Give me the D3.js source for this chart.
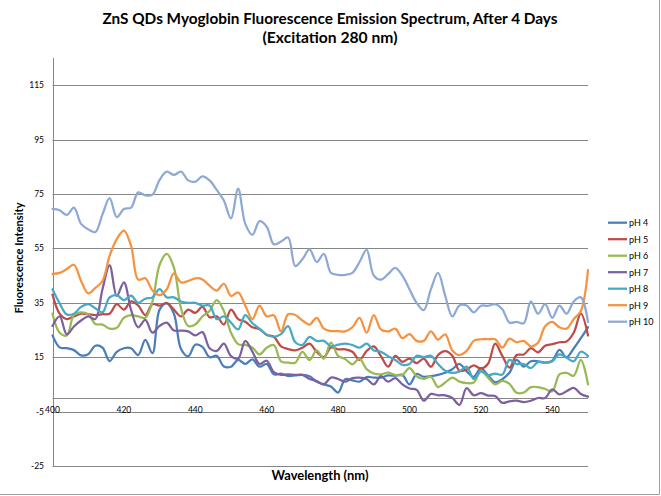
<!DOCTYPE html>
<html>
<head>
<meta charset="utf-8">
<script src="https://cdn.jsdelivr.net/npm/d3@7"></script>
<style>
  html, body { margin: 0; padding: 0; background: #fff; }
  svg { display: block; font-family: Lato, "Open Sans", sans-serif; }
</style>
</head>
<body>
<svg id="chart" width="661" height="496"></svg>
<script>
// ---------- data ----------
const titleLines = ["ZnS QDs Myoglobin Fluorescence Emission Spectrum, After 4 Days", "(Excitation 280 nm)"];
const xTitle = "Wavelength (nm)";
const yTitle = "Fluorescence Intensity";
const wavelengths = d3.range(400, 551, 2);
const yTicks = [-25, -5, 15, 35, 55, 75, 95, 115];
const xTicks = [400, 420, 440, 460, 480, 500, 520, 540];
const seriesNames = ["pH 4", "pH 5", "pH 6", "pH 7", "pH 8", "pH 9", "pH 10"];
const seriesColors = ["#4A7EBB", "#BE4B48", "#98B954", "#7D60A0", "#46AAC5", "#F69240", "#8EA9D5"];

const pH4 = [23, 18.6, 18.3, 17.6, 15.7, 16.1, 19.2, 18.5, 13.6, 17, 18.3, 18.3, 15.8, 21.4, 16.5, 32.5, 34.8, 31, 18, 15.3, 19.6, 18.8, 15, 15.5, 11.6, 11.5,
  14, 12.5, 14.2, 11.5, 12.5, 8.7, 9, 8.1, 8.3, 8.5, 8, 6, 5, 4.2, 2, 6.9, 6.5, 6, 7.7, 7.5, 7.5, 8.3, 8.2, 8.5, 5,
  8.8, 7.8, 8, 8.5, 9.3, 10.6, 12.5, 9.8, 7.8, 11, 8.3, 5.8, 6.9, 9.3, 14, 11.5, 13.5, 13.5, 13, 13.7, 17.7, 15, 18.2, 22, 26];
const pH5 = [38, 31, 29, 30, 31, 30.8, 30.5, 30.8, 31, 34.5, 32.5, 35.5, 34, 30.5, 34.5, 34, 35, 32.5, 30, 32.5, 31.3, 33.5, 29.7, 30, 27, 32.5,
  29, 28, 26, 25.3, 23.2, 22.5, 19, 18, 17.5, 18.5, 20, 17, 15, 18.6, 17.9, 17.9, 17, 14, 17.3, 19, 15.4, 11.5, 15.5, 13.3, 14.5,
  12.8, 14.5, 11.5, 15.8, 17.2, 15.5, 10, 10.5, 12, 10.8, 12.6, 20, 15.5, 11.2, 15.8, 16, 18.3, 16.8, 19.2, 19.8, 20.5, 20.8, 24, 31, 23];
const pH6 = [31, 24, 23, 30.5, 31.5, 30.8, 27.2, 27, 25.5, 25.8, 29.5, 30.5, 30, 29.5, 35.5, 49, 53, 48, 33, 26.5, 27, 30, 32, 36, 32, 24,
  19.8, 19.5, 18.5, 16, 18.5, 19.5, 13.5, 13, 13, 17, 14, 17.5, 14.5, 20.4, 15.5, 14.3, 12.4, 14.5, 10.6, 9, 8.7, 9.3, 8.5, 8.5, 11,
  8, 7, 7.8, 4, 5.7, 7.5, 6, 5.5, 5.7, 10, 7.5, 5, 6.3, 5.2, 1.9, 2, 4, 4, 3.3, 2.5, 8.7, 9.2, 8.2, 14, 5];
const pH7 = [26.5, 30, 23.4, 26.3, 28.5, 30, 29, 40, 48.8, 37.5, 42.5, 32.4, 26, 28.7, 24, 26.5, 27.7, 24.8, 24.8, 24.5, 23, 24.2, 18.3, 17.3, 20, 15.4,
  14.5, 21, 17, 12.5, 13.7, 9.5, 8.5, 8.7, 8.5, 8.5, 7, 6.2, 5, 7.5, 7, 6, 7.3, 7.5, 7, 5, 8, 6, 7.3, 5, 3.5,
  3, -1, 1.5, 1, 1, 0, -2.5, 3.6, 1, 1.8, 0.9, 0.7, -1.8, -1.2, -1, -1.5, -1, 0, 0, 3.2, 1.3, 2.5, 3.7, 1.5, 0.5];
const pH8 = [40, 34.8, 30.7, 31, 33.5, 34.5, 33, 31.5, 37, 37.8, 36, 37.6, 35, 36.5, 37, 40, 37, 37, 35.5, 35, 35, 34, 34, 29, 30, 27.7,
  25.2, 30.5, 27.5, 25.5, 23.3, 22.5, 23.5, 26.4, 20.5, 19.5, 22.5, 21, 21, 19, 19.6, 20, 19.5, 18.5, 20, 17.5, 17, 15.4, 14, 12.2, 12.5,
  15.5, 15, 15.5, 12.5, 10, 9.2, 9.8, 11.5, 7, 9.8, 8.4, 9, 8.6, 14, 12.5, 12.5, 11, 13.2, 12.9, 13.5, 16, 14.8, 13.5, 17, 15.4];
const pH9 = [45.6, 46, 47.4, 49, 43, 38.5, 40.5, 43, 52.3, 58.4, 61.5, 56, 43.5, 44, 39.5, 37.8, 40, 45.8, 42.5, 43, 44, 43.6, 41.3, 39.5, 42, 37.5,
  38.8, 34, 29, 34, 30, 30.4, 24.5, 30.8, 30.5, 28.5, 27, 29.5, 25.5, 24.6, 24.6, 24.5, 26, 29.5, 24, 30.5, 25.2, 24.5, 25.5, 22, 23.5,
  21, 21, 24.5, 21.5, 23.4, 17.5, 15.8, 17.3, 21, 21.6, 21.6, 21.6, 18.5, 21.8, 20.5, 21, 19, 20.3, 26.4, 28, 26, 25.5, 29, 32, 47];
const pH10 = [69.5, 69, 67.3, 70, 64, 62, 61, 67.5, 73.5, 66.5, 69.5, 70, 75.6, 74.5, 74.8, 80.2, 83.2, 82, 83.2, 80, 79.5, 81.5, 80, 76.5, 72.6, 66,
  77, 64, 60, 65, 63, 56.5, 57.5, 59, 48.5, 51, 54.6, 50, 53, 46, 45.3, 45.3, 46, 50, 54.5, 45, 43.5, 45.5, 47.8, 45, 40,
  35, 32.3, 40, 46, 37.6, 30, 34, 34, 31.5, 33.9, 33.9, 34.5, 32.6, 27.7, 28, 27.5, 35.5, 31, 34.5, 29.5, 34, 31, 35.5, 37, 28];
const seriesValues = [pH4, pH5, pH6, pH7, pH8, pH9, pH10];

// ---------- layout ----------
const svg = d3.select("#chart");
const plot = { left: 52.5, right: 588, top: 58, bottom: 466 };
const x = d3.scaleLinear().domain([400, 550]).range([plot.left, plot.right]);
const y = d3.scaleLinear().domain([-25, 125]).range([plot.bottom, plot.top]);
const gridColor = "#868686";

function fitText(sel, target) {
  const n = sel.node();
  const fs = parseFloat(sel.attr("font-size"));
  const w = n.getComputedTextLength();
  if (w > 0) sel.attr("font-size", (fs * target / w).toFixed(2));
}

// outer border (right / bottom)
svg.append("line").attr("x1", 659.5).attr("x2", 659.5).attr("y1", 0).attr("y2", 494.5).attr("stroke", "#a0a0a0");
svg.append("line").attr("x1", 0).attr("x2", 659.5).attr("y1", 494.5).attr("y2", 494.5).attr("stroke", "#a0a0a0");

// gridlines
svg.append("g").selectAll("line").data(yTicks).join("line")
  .attr("x1", plot.left).attr("x2", plot.right)
  .attr("y1", d => Math.round(y(d)) + 0.5).attr("y2", d => Math.round(y(d)) + 0.5)
  .attr("stroke", gridColor).attr("stroke-width", 1);

// y axis line
svg.append("line").attr("x1", Math.round(plot.left) + 0.5).attr("x2", Math.round(plot.left) + 0.5)
  .attr("y1", plot.top).attr("y2", plot.bottom).attr("stroke", gridColor);

// x axis line at 0
svg.append("line").attr("x1", plot.left).attr("x2", plot.right)
  .attr("y1", Math.round(y(0)) + 0.5).attr("y2", Math.round(y(0)) + 0.5).attr("stroke", gridColor);

// y tick labels
svg.append("g").selectAll("text").data(yTicks).join("text")
  .attr("x", 44).attr("y", d => y(d) + 3)
  .attr("text-anchor", "end").attr("font-size", 8.5).attr("fill", "#000")
  .text(d => d);

// x tick labels
svg.append("g").selectAll("text").data(xTicks).join("text")
  .attr("x", d => x(d)).attr("y", y(0) + 15)
  .attr("text-anchor", "middle").attr("font-size", 8.5).attr("fill", "#000")
  .text(d => d);

// series lines
const line = d3.line()
  .x((d, i) => x(wavelengths[i]))
  .y(d => y(d))
  .curve(d3.curveCatmullRom.alpha(0.5));

svg.append("g").selectAll("path").data(seriesValues).join("path")
  .attr("d", d => line(d))
  .attr("fill", "none")
  .attr("stroke", (d, i) => seriesColors[i])
  .attr("stroke-width", 2.25)
  .attr("stroke-linejoin", "round")
  .attr("stroke-linecap", "round");

// titles
const t1 = svg.append("text").attr("x", 330).attr("y", 24).attr("text-anchor", "middle")
  .attr("font-weight", "bold").attr("font-size", 15).text(titleLines[0]);
fitText(t1, 455);
const t2 = svg.append("text").attr("x", 330).attr("y", 43).attr("text-anchor", "middle")
  .attr("font-weight", "bold").attr("font-size", 15).text(titleLines[1]);
fitText(t2, 135);

const xt = svg.append("text").attr("x", 320).attr("y", 480).attr("text-anchor", "middle")
  .attr("font-weight", "bold").attr("font-size", 11).text(xTitle);
fitText(xt, 97);

const yt = svg.append("text").attr("transform", "translate(23,258) rotate(-90)").attr("text-anchor", "middle")
  .attr("font-weight", "bold").attr("font-size", 11).text(yTitle);
fitText(yt, 111);

// legend
const legendRows = [222.7, 239.2, 255.7, 272.2, 288.7, 305.2, 321.7];
const lg = svg.append("g").selectAll("g").data(seriesNames).join("g")
  .attr("transform", (d, i) => `translate(0,${legendRows[i]})`);
lg.append("line").attr("x1", 608).attr("x2", 627).attr("y1", 0).attr("y2", 0)
  .attr("stroke", (d, i) => seriesColors[i]).attr("stroke-width", 2.25);
lg.append("text").attr("x", 629).attr("y", 3.3).attr("font-size", 9).attr("fill", "#000").text(d => d);
</script>
</body>
</html>
